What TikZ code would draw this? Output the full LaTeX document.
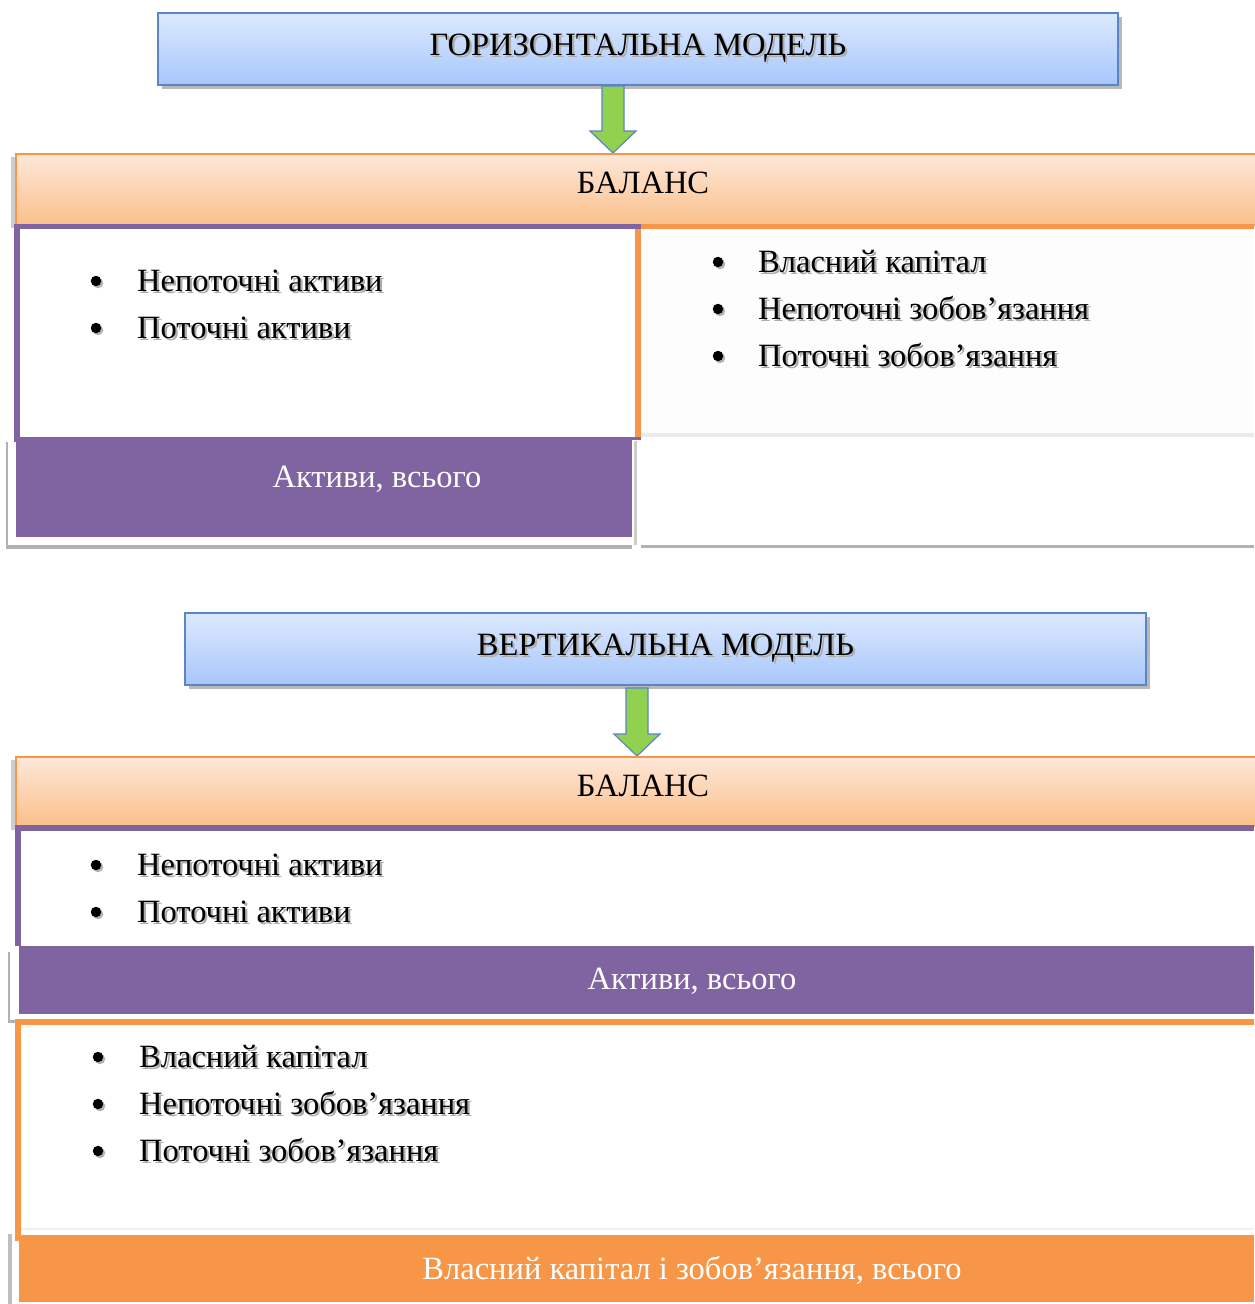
\documentclass[tikz,border=0pt]{standalone}
\usepackage{fontspec}
\setmainfont{Liberation Serif}
\usetikzlibrary{calc}

\definecolor{blueT}{HTML}{DCE9FE}
\definecolor{blueB}{HTML}{A7C7FB}
\definecolor{blueD}{HTML}{5B85C6}
\definecolor{oranT}{HTML}{FDE7D9}
\definecolor{oranB}{HTML}{FBC08B}
\definecolor{oran}{HTML}{F79646}
\definecolor{purp}{HTML}{8064A2}
\definecolor{arrG}{HTML}{92D050}
\definecolor{paneBg}{HTML}{FDFDFD}

% text with a soft grey shadow behind it
\newcommand{\shtx}[1]{\makebox[0pt][l]{\hspace{2.2pt}\raisebox{-2.2pt}{\textcolor{black!32}{#1}}}#1}

\tikzset{
  bigfont/.style={font=\fontsize{32.5}{36}\selectfont},
  modelbox/.style={draw=blueD, line width=1.2pt, top color=blueT, bottom color=blueB,
    inner sep=0pt, bigfont},
  headbox/.style={draw=oran, line width=2pt, top color=oranT, bottom color=oranB},
  shadowbox/.style={fill=black!28},
  blockarrow/.style={draw=blueD, line width=1.2pt, fill=arrG, line join=miter},
  item/.style={anchor=base west, inner sep=0pt, bigfont},
  dot/.style={circle, fill=black, minimum size=10.5pt, inner sep=0pt,
    preaction={fill=black!30, transform canvas={xshift=2pt, yshift=-2pt}}},
  totaltext/.style={text=white, inner sep=0pt, bigfont},
  headtext/.style={inner sep=0pt, bigfont},
}

\begin{document}
\begin{tikzpicture}[x=1pt, y=-1pt]
\useasboundingbox[fill=white] (0,0) rectangle (1254,1304);

% ===================== horizontal model =====================
\fill[shadowbox] (162,17) rectangle (1122,89);
\node[modelbox, minimum width=960pt, minimum height=72pt] (hm) at (638,49) {\shtx{ГОРИЗОНТАЛЬНА МОДЕЛЬ}};

\draw[blockarrow] (602,86) -- (624,86) -- (624,131) -- (636,131) -- (613,153)
   -- (590,131) -- (602,131) -- cycle;

% balance header
\fill[black!20] (11,157) rectangle (15,228);
\draw[headbox] (16,154) rectangle (1262,225);
\node[headtext] (hb) at (643,183) {БАЛАНС};

% right pane
\fill[paneBg] (641,229) rectangle (1254,545);
\fill[black!8] (641,433) rectangle (1254,437);
\fill[black!30] (641,545) rectangle (1254,548);
\fill[white] (641,437) rectangle (1254,545);
\fill[black!20] (634,441) rectangle (637,545);

% bottom edge of header
\fill[oran] (641,224) rectangle (1254,229);
\fill[purp] (14,224) rectangle (641,229);
% left pane frame
\fill[purp] (14,224) rectangle (20,442);
\fill[oran] (635,229) rectangle (641,437);

% total assets bar
\fill[black!30] (6,442) rectangle (632,549);
\fill[white] (8,437) rectangle (632,545);
\fill[purp] (16,437) rectangle (632,537);
\fill[purp] (632,437) rectangle (641,440);
\fill[purp] (14,420) rectangle (20,442);
\node[totaltext] (ha) at (377,479) {Активи, всього};

% left list
\node[dot] (hb1) at (96,281) {};
\node[item] (hl1) at (137,291) {\shtx{Непоточні активи}};
\node[dot] (hb2) at (96,328) {};
\node[item] (hl2) at (137,338) {\shtx{Поточні активи}};

% right list
\node[dot] (hb3) at (718,262) {};
\node[item] (hr1) at (758,272) {\shtx{Власний капітал}};
\node[dot] (hb4) at (718,309) {};
\node[item] (hr2) at (758,319) {\shtx{Непоточні зобов’язання}};
\node[dot] (hb5) at (718,356) {};
\node[item] (hr3) at (758,366) {\shtx{Поточні зобов’язання}};

% ===================== vertical model =====================
\fill[shadowbox] (189,617) rectangle (1150,689);
\node[modelbox, minimum width=961pt, minimum height=72pt] (vm) at (665.5,649) {\shtx{ВЕРТИКАЛЬНА МОДЕЛЬ}};

\draw[blockarrow] (626,688) -- (648,688) -- (648,734) -- (660,734) -- (637,756)
   -- (614,734) -- (626,734) -- cycle;

% balance header
\fill[black!20] (11,760) rectangle (15,830);
\draw[headbox] (16,757) rectangle (1262,826);
\node[headtext] (vb) at (643,786) {БАЛАНС};

% assets pane
\fill[purp] (15,825) rectangle (1254,831);
\fill[purp] (15,825) rectangle (21,946);

% total assets bar
\fill[black!30] (8,952) rectangle (1254,1023);
\fill[white] (10,948) rectangle (1254,1020);
\fill[purp] (19,946) rectangle (1254,1014);
\node[totaltext] (va) at (692,981) {Активи, всього};

% equity and liabilities pane
\fill[oran] (15,1019) rectangle (1254,1025);
\fill[oran] (15,1019) rectangle (21,1241);
\fill[black!6] (21,1228) rectangle (1254,1231);

% total equity and liabilities bar
\fill[black!25] (8,1234) rectangle (12,1304);
\fill[white] (12,1230) rectangle (1254,1304);
\fill[oran] (19,1235) rectangle (1254,1302);
\fill[oran] (15,1230) rectangle (21,1241);
\node[totaltext] (ve) at (692,1270) {Власний капітал і зобов’язання, всього};

% assets list
\node[dot] (vb1) at (96,865) {};
\node[item] (vl1) at (137,875) {\shtx{Непоточні активи}};
\node[dot] (vb2) at (96,912) {};
\node[item] (vl2) at (137,922) {\shtx{Поточні активи}};

% equity and liabilities list
\node[dot] (vb3) at (98,1057) {};
\node[item] (vr1) at (139,1067) {\shtx{Власний капітал}};
\node[dot] (vb4) at (98,1104) {};
\node[item] (vr2) at (139,1114) {\shtx{Непоточні зобов’язання}};
\node[dot] (vb5) at (98,1151) {};
\node[item] (vr3) at (139,1161) {\shtx{Поточні зобов’язання}};
\end{tikzpicture}
\end{document}
